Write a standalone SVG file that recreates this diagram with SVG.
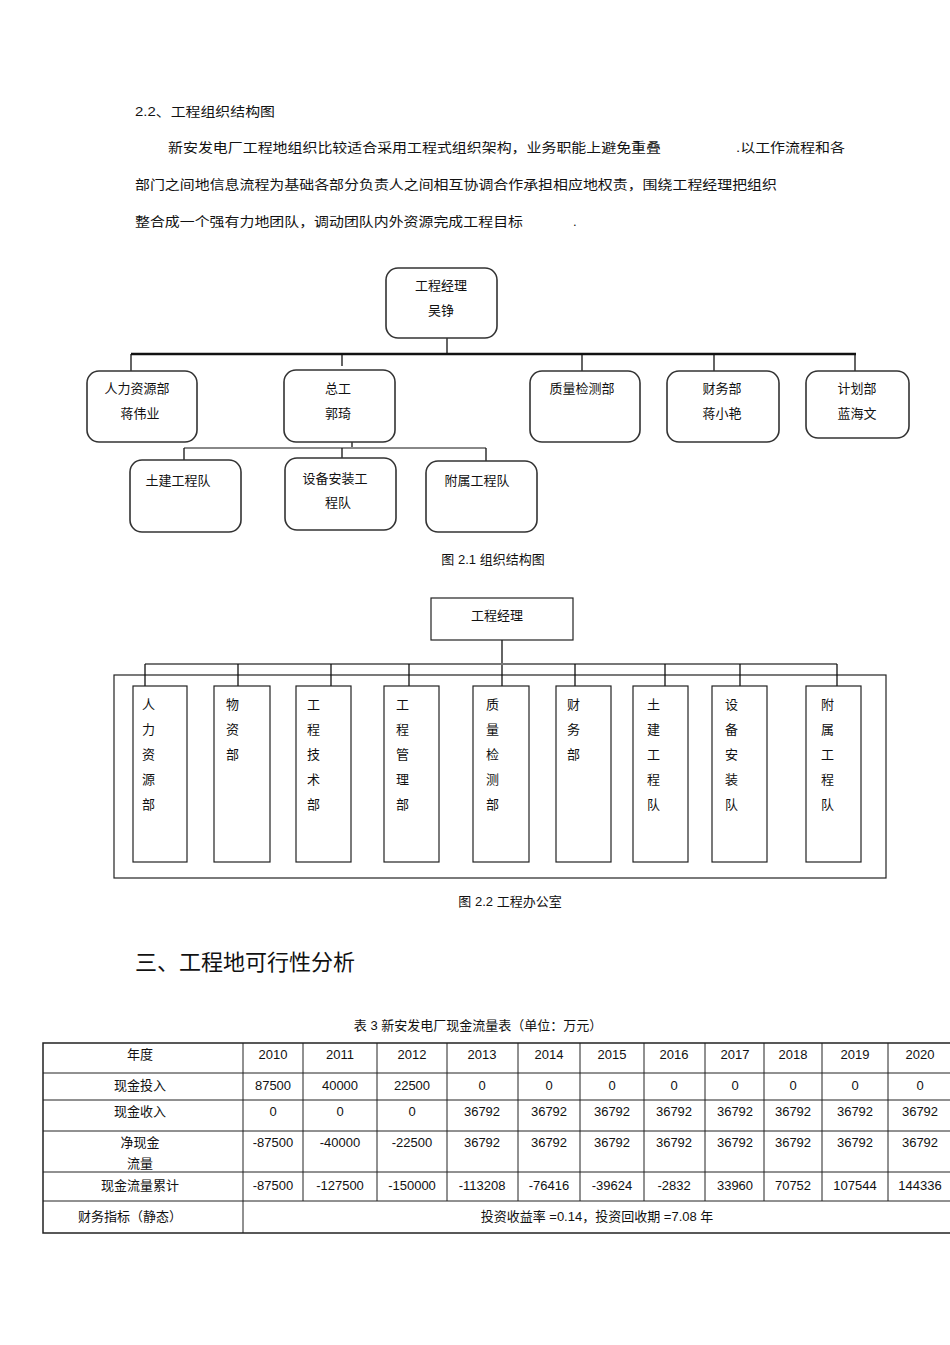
<svg xmlns="http://www.w3.org/2000/svg" width="950" height="1345" viewBox="0 0 950 1345">
<style>
text{font-family:"Liberation Sans","Noto Sans CJK SC",sans-serif;font-size:13px;fill:#111}
.c{text-anchor:middle}
.rb{fill:#fff;stroke:#333;stroke-width:1.6}
.sb{fill:#fff;stroke:#222;stroke-width:1.2}
.ln{stroke:#111;stroke-width:1.3;fill:none}
.tk{stroke:#111;stroke-width:2.5}
.tb{stroke:#222;stroke-width:1;fill:none}
</style>
<rect width="950" height="1345" fill="#fff"/>
<text x="135" y="116" textLength="140" lengthAdjust="spacingAndGlyphs">2.2、工程组织结构图</text>
<text x="168" y="152" textLength="493" lengthAdjust="spacingAndGlyphs">新安发电厂工程地组织比较适合采用工程式组织架构，业务职能上避免重叠</text>
<text x="736" y="152" textLength="109" lengthAdjust="spacingAndGlyphs">.以工作流程和各</text>
<text x="135" y="189" textLength="642" lengthAdjust="spacingAndGlyphs">部门之间地信息流程为基础各部分负责人之间相互协调合作承担相应地权责，围绕工程经理把组织</text>
<text x="135" y="226" textLength="388" lengthAdjust="spacingAndGlyphs">整合成一个强有力地团队，调动团队内外资源完成工程目标</text>
<text x="573" y="226">.</text>

<g id="connectors1">
<line class="tk" x1="131" y1="354" x2="856" y2="354"/>
<line class="ln" x1="447" y1="338" x2="447" y2="354"/>
<line class="ln" x1="131" y1="354" x2="131" y2="371"/>
<line class="ln" x1="342" y1="354" x2="342" y2="366"/>
<line class="ln" x1="582" y1="354" x2="582" y2="371"/>
<line class="ln" x1="714" y1="354" x2="714" y2="371"/>
<line class="ln" x1="855" y1="354" x2="855" y2="371"/>
<line class="ln" x1="352" y1="442" x2="352" y2="448"/>
<line class="ln" x1="184" y1="448" x2="486" y2="448" style="stroke:#888;stroke-width:2"/>
<line class="ln" x1="184" y1="448" x2="184" y2="460"/>
<line class="ln" x1="342" y1="448" x2="342" y2="458"/>
<line class="ln" x1="486" y1="448" x2="486" y2="461"/>
</g>
<g id="n-pm"><rect class="rb" x="386" y="268" width="111" height="70" rx="12"/><text class="c" x="441" y="290">工程经理</text><text class="c" x="441" y="315">吴铮</text></g>
<g id="n-hr"><rect class="rb" x="87" y="371" width="110" height="71" rx="12"/><text class="c" x="137" y="393">人力资源部</text><text class="c" x="140" y="418">蒋伟业</text></g>
<g id="n-cte"><rect class="rb" x="284" y="370" width="111" height="72" rx="12"/><text class="c" x="338" y="393">总工</text><text class="c" x="338" y="418">郭琦</text></g>
<g id="n-qc"><rect class="rb" x="530" y="371" width="110" height="71" rx="12"/><text class="c" x="582" y="393">质量检测部</text></g>
<g id="n-fin"><rect class="rb" x="667" y="371" width="112" height="71" rx="12"/><text class="c" x="722" y="393">财务部</text><text class="c" x="722" y="418">蒋小艳</text></g>
<g id="n-plan"><rect class="rb" x="806" y="371" width="103" height="67" rx="12"/><text class="c" x="857" y="393">计划部</text><text class="c" x="857" y="418">蓝海文</text></g>
<g id="n-civil"><rect class="rb" x="130" y="460" width="111" height="72" rx="12"/><text class="c" x="178" y="485">土建工程队</text></g>
<g id="n-equip"><rect class="rb" x="285" y="458" width="111" height="72" rx="12"/><text class="c" x="335" y="483">设备安装工</text><text class="c" x="338" y="507">程队</text></g>
<g id="n-aux"><rect class="rb" x="426" y="461" width="111" height="71" rx="12"/><text class="c" x="477" y="485">附属工程队</text></g>
<text class="c" x="493" y="564">图  2.1 组织结构图</text>

<rect class="tb" x="114" y="675" width="772" height="203" style="stroke-width:1.2"/>
<g id="connectors2">
<line class="ln" x1="502" y1="640" x2="502" y2="686"/>
<line class="ln" x1="145" y1="664" x2="837" y2="664" style="stroke:#777;stroke-width:2"/>
<line class="ln" x1="145" y1="664" x2="145" y2="686"/>
<line class="ln" x1="238" y1="664" x2="238" y2="686"/>
<line class="ln" x1="331" y1="664" x2="331" y2="686"/>
<line class="ln" x1="409" y1="664" x2="409" y2="686"/>
<line class="ln" x1="575" y1="664" x2="575" y2="686"/>
<line class="ln" x1="665" y1="664" x2="665" y2="686"/>
<line class="ln" x1="740" y1="664" x2="740" y2="686"/>
<line class="ln" x1="837" y1="664" x2="837" y2="686"/>
</g>
<g id="m-pm"><rect class="sb" x="431" y="598" width="142" height="42"/><text class="c" x="497" y="620">工程经理</text></g>
<g id="m1"><rect class="sb" x="133" y="686" width="54" height="176"/><text x="142" y="709">人</text><text x="142" y="734">力</text><text x="142" y="759">资</text><text x="142" y="784">源</text><text x="142" y="809">部</text></g>
<g id="m2"><rect class="sb" x="214" y="686" width="56" height="176"/><text x="226" y="709">物</text><text x="226" y="734">资</text><text x="226" y="759">部</text></g>
<g id="m3"><rect class="sb" x="296" y="686" width="55" height="176"/><text x="307" y="709">工</text><text x="307" y="734">程</text><text x="307" y="759">技</text><text x="307" y="784">术</text><text x="307" y="809">部</text></g>
<g id="m4"><rect class="sb" x="384" y="686" width="55" height="176"/><text x="396" y="709">工</text><text x="396" y="734">程</text><text x="396" y="759">管</text><text x="396" y="784">理</text><text x="396" y="809">部</text></g>
<g id="m5"><rect class="sb" x="473" y="686" width="56" height="176"/><text x="486" y="709">质</text><text x="486" y="734">量</text><text x="486" y="759">检</text><text x="486" y="784">测</text><text x="486" y="809">部</text></g>
<g id="m6"><rect class="sb" x="556" y="686" width="55" height="176"/><text x="567" y="709">财</text><text x="567" y="734">务</text><text x="567" y="759">部</text></g>
<g id="m7"><rect class="sb" x="633" y="686" width="55" height="176"/><text x="647" y="709">土</text><text x="647" y="734">建</text><text x="647" y="759">工</text><text x="647" y="784">程</text><text x="647" y="809">队</text></g>
<g id="m8"><rect class="sb" x="712" y="686" width="55" height="176"/><text x="725" y="709">设</text><text x="725" y="734">备</text><text x="725" y="759">安</text><text x="725" y="784">装</text><text x="725" y="809">队</text></g>
<g id="m9"><rect class="sb" x="806" y="686" width="55" height="176"/><text x="821" y="709">附</text><text x="821" y="734">属</text><text x="821" y="759">工</text><text x="821" y="784">程</text><text x="821" y="809">队</text></g>
<text class="c" x="510" y="906">图  2.2 工程办公室</text>

<text x="135" y="970" style="font-size:22px">三、工程地可行性分析</text>
<text class="c" x="478" y="1030">表 3 新安发电厂现金流量表（单位：万元）</text>

<g id="table" class="tb">
<rect x="43" y="1043" width="912" height="190" style="stroke-width:1.5"/>
<path d="M43 1073H955M43 1100H955M43 1131H955M43 1172H955M43 1201H955"/>
<path d="M243 1043V1233M303 1043V1201M377 1043V1201M447 1043V1201M518 1043V1201M580 1043V1201M644 1043V1201M705 1043V1201M764 1043V1201M822 1043V1201M888 1043V1201"/>
</g>
<g id="tabletext" class="c">
<text x="140" y="1059">年度</text><text x="273" y="1059">2010</text><text x="340" y="1059">2011</text><text x="412" y="1059">2012</text><text x="482" y="1059">2013</text><text x="549" y="1059">2014</text><text x="612" y="1059">2015</text><text x="674" y="1059">2016</text><text x="735" y="1059">2017</text><text x="793" y="1059">2018</text><text x="855" y="1059">2019</text><text x="920" y="1059">2020</text>
<text x="140" y="1090">现金投入</text><text x="273" y="1090">87500</text><text x="340" y="1090">40000</text><text x="412" y="1090">22500</text><text x="482" y="1090">0</text><text x="549" y="1090">0</text><text x="612" y="1090">0</text><text x="674" y="1090">0</text><text x="735" y="1090">0</text><text x="793" y="1090">0</text><text x="855" y="1090">0</text><text x="920" y="1090">0</text>
<text x="140" y="1116">现金收入</text><text x="273" y="1116">0</text><text x="340" y="1116">0</text><text x="412" y="1116">0</text><text x="482" y="1116">36792</text><text x="549" y="1116">36792</text><text x="612" y="1116">36792</text><text x="674" y="1116">36792</text><text x="735" y="1116">36792</text><text x="793" y="1116">36792</text><text x="855" y="1116">36792</text><text x="920" y="1116">36792</text>
<text x="140" y="1147">净现金</text><text x="140" y="1168">流量</text><text x="273" y="1147">-87500</text><text x="340" y="1147">-40000</text><text x="412" y="1147">-22500</text><text x="482" y="1147">36792</text><text x="549" y="1147">36792</text><text x="612" y="1147">36792</text><text x="674" y="1147">36792</text><text x="735" y="1147">36792</text><text x="793" y="1147">36792</text><text x="855" y="1147">36792</text><text x="920" y="1147">36792</text>
<text x="140" y="1190">现金流量累计</text><text x="273" y="1190">-87500</text><text x="340" y="1190">-127500</text><text x="412" y="1190">-150000</text><text x="482" y="1190">-113208</text><text x="549" y="1190">-76416</text><text x="612" y="1190">-39624</text><text x="674" y="1190">-2832</text><text x="735" y="1190">33960</text><text x="793" y="1190">70752</text><text x="855" y="1190">107544</text><text x="920" y="1190">144336</text>
<text x="130" y="1221">财务指标（静态）</text><text x="597" y="1221">投资收益率  =0.14，投资回收期   =7.08 年</text>
</g>
</svg>
